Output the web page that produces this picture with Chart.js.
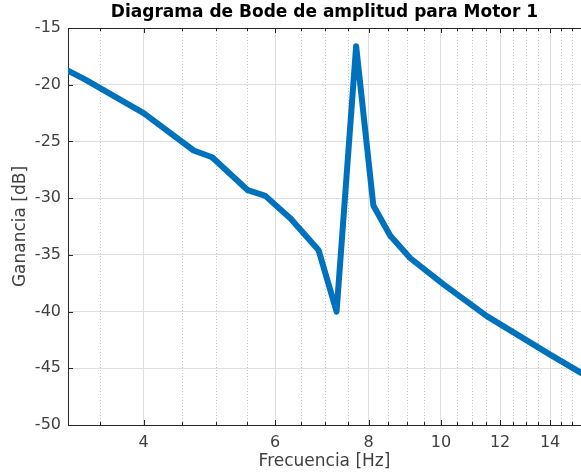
<!DOCTYPE html>
<html>
<head>
<meta charset="utf-8">
<script src="https://cdn.jsdelivr.net/npm/chart.js@4.4.1/dist/chart.umd.min.js"></script>
<style>
  html, body { margin: 0; padding: 0; background: #fff; }
  #caja { width: 581px; height: 476px; }
</style>
</head>
<body>
<div id="caja"><canvas id="grafica"></canvas></div>
<script>
// datos (Hz, dB)
const frecuencia = [3.168, 3.342, 4.0, 4.667, 4.94, 5.514, 5.82, 6.29, 6.86, 7.25, 7.70, 8.12, 8.55, 9.10, 10.08, 11.52, 14.0, 15.40];
const ganancia = [-18.75, -19.55, -22.5, -25.8, -26.4, -29.3, -29.8, -31.8, -34.6, -40.0, -16.6, -30.65, -33.3, -35.3, -37.6, -40.4, -43.8, -45.4];

// ticks del eje x (log)
const marcasX = [4, 6, 8, 10, 12, 14];
const menoresX = [3.5, 4.5, 5, 5.5, 6.5, 7, 7.5, 8.5, 9, 9.5, 10.5, 11, 11.5, 12.5, 13, 13.5, 14.5, 15];
const marcasY = [-50, -45, -40, -35, -30, -25, -20, -15];

const colorEje = '#262626';
const colorTexto = '#404040';

// 🔹 rejilla menor punteada + marcas hacia dentro (estilo MATLAB)
const ejesMatlab = {
  id: 'ejesMatlab',
  beforeDatasetsDraw(chart) {
    const { ctx, chartArea: a, scales: { x, y } } = chart;
    ctx.save();
    ctx.lineWidth = 1;
    ctx.strokeStyle = '#c4c4c4';
    ctx.setLineDash([1, 2]);
    menoresX.forEach(v => {
      const px = Math.round(x.getPixelForValue(v)) + 0.5;
      ctx.beginPath();
      ctx.moveTo(px, a.top);
      ctx.lineTo(px, a.bottom);
      ctx.stroke();
    });
    ctx.setLineDash([]);
    ctx.strokeStyle = colorEje;

    // borde superior
    ctx.beginPath();
    ctx.moveTo(a.left, Math.round(a.top) + 0.5);
    ctx.lineTo(a.right, Math.round(a.top) + 0.5);
    ctx.stroke();

    const marca = (px, largo) => {
      ctx.beginPath();
      ctx.moveTo(px, a.bottom);
      ctx.lineTo(px, a.bottom - largo);
      ctx.moveTo(px, a.top);
      ctx.lineTo(px, a.top + largo);
      ctx.stroke();
    };
    marcasX.forEach(v => marca(Math.round(x.getPixelForValue(v)) + 0.5, 5));
    menoresX.forEach(v => marca(Math.round(x.getPixelForValue(v)) + 0.5, 3));

    marcasY.forEach(v => {
      const py = Math.round(y.getPixelForValue(v)) + 0.5;
      ctx.beginPath();
      ctx.moveTo(a.left, py);
      ctx.lineTo(a.left + 5, py);
      ctx.stroke();
    });
    ctx.restore();
  }
};

const ctx = document.getElementById('grafica').getContext('2d');

const grafica = new Chart(ctx, {
  type: 'line',
  data: {
    datasets: [{
      label: 'Motor 1',
      data: frecuencia.map((f, i) => ({ x: f, y: ganancia[i] })),
      borderColor: '#0072BD',
      borderWidth: 6,
      pointRadius: 0,
      tension: 0,
      borderJoinStyle: 'round',
      borderCapStyle: 'round'
    }]
  },
  options: {
    responsive: true,
    maintainAspectRatio: false,
    animation: false,
    layout: { padding: 0 },
    plugins: {
      legend: { display: false },
      tooltip: { enabled: false },
      title: {
        display: true,
        text: 'Diagrama de Bode de amplitud para Motor 1',
        fullSize: false,
        color: '#000',
        font: { family: 'DejaVu Sans', size: 17, weight: 'bold' },
        padding: { top: 2, bottom: 5.6 }
      }
    },
    scales: {
      x: {
        type: 'logarithmic',
        min: 3.168,
        max: 15.4,
        afterBuildTicks: (s) => { s.ticks = marcasX.map(v => ({ value: v })); },
        afterFit: (s) => { s.height = 51; },
        ticks: {
          autoSkip: false,
          maxRotation: 0,
          padding: 8,
          color: colorTexto,
          font: { family: 'DejaVu Sans', size: 16 },
          callback: (v) => String(v)
        },
        grid: { color: '#dedede', drawTicks: false },
        border: { color: colorEje, width: 1 },
        title: {
          display: true,
          text: 'Frecuencia [Hz]',
          color: colorTexto,
          font: { family: 'DejaVu Sans', size: 17 },
          padding: { top: 0, bottom: 4 }
        }
      },
      y: {
        min: -50,
        max: -15,
        afterFit: (s) => { s.width = 68; },
        ticks: {
          stepSize: 5,
          padding: 7,
          color: colorTexto,
          font: { family: 'DejaVu Sans', size: 16 }
        },
        grid: { color: '#dedede', drawTicks: false },
        border: { color: colorEje, width: 1 },
        title: {
          display: true,
          text: 'Ganancia [dB]',
          color: colorTexto,
          font: { family: 'DejaVu Sans', size: 17 },
          padding: { top: 10, bottom: 0 }
        }
      }
    }
  },
  plugins: [ejesMatlab]
});
</script>
</body>
</html>
